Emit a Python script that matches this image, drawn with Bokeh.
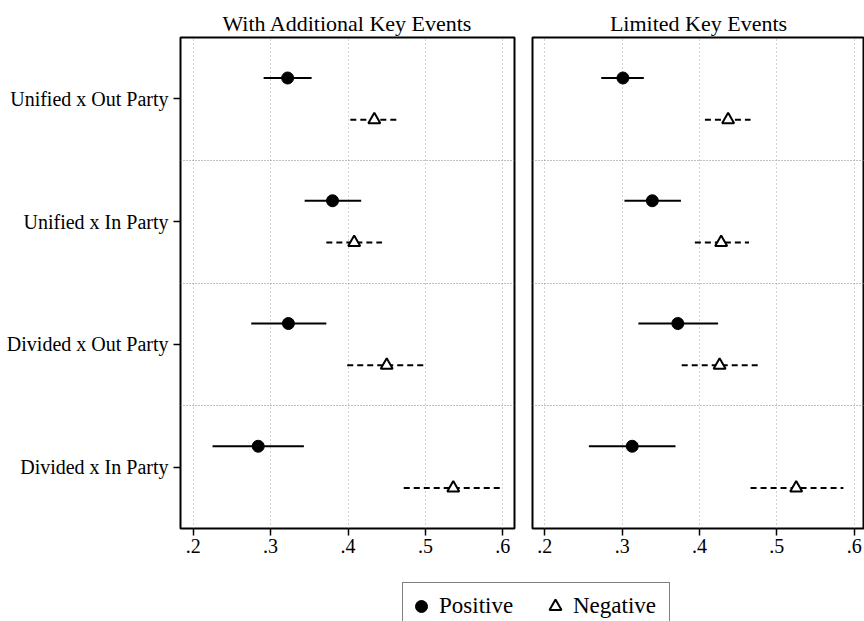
from bokeh.plotting import figure
from bokeh.models import (Range1d, FixedTicker, Legend, LegendItem, ColumnDataSource)
from bokeh.layouts import column, row
from bokeh.embed import file_html
from bokeh.resources import INLINE

# ---------------- data ----------------
categories = ["Unified x Out Party", "Unified x In Party",
              "Divided x Out Party", "Divided x In Party"]
panel_titles = ["With Additional Key Events", "Limited Key Events"]

# With Additional Key Events
add_pos_est = [0.322, 0.380, 0.323, 0.284]
add_pos_lo = [0.291, 0.344, 0.275, 0.225]
add_pos_hi = [0.353, 0.417, 0.372, 0.343]
add_neg_est = [0.434, 0.408, 0.450, 0.536]
add_neg_lo = [0.403, 0.372, 0.399, 0.472]
add_neg_hi = [0.463, 0.444, 0.500, 0.599]

# Limited Key Events
lim_pos_est = [0.301, 0.339, 0.372, 0.313]
lim_pos_lo = [0.273, 0.303, 0.321, 0.257]
lim_pos_hi = [0.328, 0.376, 0.424, 0.369]
lim_neg_est = [0.437, 0.428, 0.426, 0.525]
lim_neg_lo = [0.407, 0.394, 0.377, 0.466]
lim_neg_hi = [0.466, 0.464, 0.476, 0.586]

xtick_vals = [0.2, 0.3, 0.4, 0.5, 0.6]
xtick_labels = [".2", ".3", ".4", ".5", ".6"]
series_labels = ["Positive", "Negative"]

FONT = "Liberation Serif"
n = len(categories)
ypos = [n - i for i in range(n)]          # top row first
OFF = 0.17


def make_panel(title, pos_est, pos_lo, pos_hi, neg_est, neg_lo, neg_hi,
               x_start, x_end, width, left_border, right_border, show_y):
    p = figure(width=width, height=575,
               x_range=Range1d(x_start, x_end), y_range=Range1d(0.5, n + 0.5),
               min_border_left=left_border, min_border_right=right_border,
               min_border_top=37, min_border_bottom=47,
               toolbar_location=None, output_backend="svg",
               title=title)
    p.title.text_font = FONT
    p.title.text_font_size = "22px"
    p.title.text_font_style = "normal"
    p.title.align = "center"
    p.title.text_color = "black"
    p.title.standoff = 3

    p.outline_line_color = "black"
    p.outline_line_width = 2
    p.outline_line_alpha = 1.0

    # x axis
    p.xaxis.ticker = FixedTicker(ticks=xtick_vals)
    p.xaxis.major_label_overrides = dict(zip(xtick_vals, xtick_labels))
    p.xaxis.axis_line_color = None
    p.xaxis.major_tick_in = 0
    p.xaxis.major_tick_out = 7
    p.xaxis.major_tick_line_width = 1.5
    p.xaxis.minor_tick_line_color = None
    p.xaxis.major_label_text_font = FONT
    p.xaxis.major_label_text_font_size = "20px"
    p.xaxis.major_label_text_color = "black"
    p.xaxis.major_label_standoff = 3

    # y axis
    p.yaxis.ticker = FixedTicker(ticks=ypos)
    p.yaxis.major_label_overrides = dict(zip(ypos, categories))
    p.yaxis.axis_line_color = None
    p.yaxis.major_tick_in = 0
    p.yaxis.major_tick_out = 7
    p.yaxis.major_tick_line_width = 1.5
    p.yaxis.minor_tick_line_color = None
    p.yaxis.major_label_text_font = FONT
    p.yaxis.major_label_text_font_size = "20px"
    p.yaxis.major_label_text_color = "black"
    p.yaxis.major_label_standoff = 5
    if not show_y:
        p.yaxis.visible = False

    # grids
    p.xgrid.ticker = FixedTicker(ticks=xtick_vals)
    p.xgrid.grid_line_color = "#a8a8a8"
    p.xgrid.grid_line_dash = "1 3"
    p.xgrid.grid_line_width = 1
    p.ygrid.ticker = FixedTicker(ticks=[y + 0.5 for y in ypos[1:]])
    p.ygrid.grid_line_color = "#808080"
    p.ygrid.grid_line_dash = "1 2"
    p.ygrid.grid_line_width = 1.2

    src = ColumnDataSource(dict(
        ypos=[y + OFF for y in ypos], yneg=[y - OFF for y in ypos],
        pe=pos_est, pl=pos_lo, ph=pos_hi,
        ne=neg_est, nl=neg_lo, nh=neg_hi))

    p.segment(x0="pl", x1="ph", y0="ypos", y1="ypos", source=src,
              line_color="black", line_width=2)
    p.segment(x0="nl", x1="nh", y0="yneg", y1="yneg", source=src,
              line_color="black", line_width=2, line_dash="6 4")
    p.scatter(x="pe", y="ypos", source=src, marker="circle", size=12,
              fill_color="black", line_color="black")
    p.scatter(x="ne", y="yneg", source=src, marker="triangle", size=12,
              fill_color="white", line_color="black", line_width=2)
    return p


p1 = make_panel(panel_titles[0], add_pos_est, add_pos_lo, add_pos_hi,
                add_neg_est, add_neg_lo, add_neg_hi,
                0.1836, 0.6151, 523, 180, 9, True)
p2 = make_panel(panel_titles[1], lim_pos_est, lim_pos_lo, lim_pos_hi,
                lim_neg_est, lim_neg_lo, lim_neg_hi,
                0.1841, 0.6133, 341, 9, 0, False)

# legend strip (its sample glyphs sit outside the visible y range)
pl = figure(width=864, height=46, x_range=Range1d(0, 1), y_range=Range1d(-2, -1),
            min_border=0, toolbar_location=None, output_backend="svg",
            x_axis_location=None, y_axis_location=None)
pl.outline_line_color = None
pl.grid.visible = False
r_pos = pl.scatter(x=add_pos_est, y=ypos, marker="circle", size=12,
                   fill_color="black", line_color="black")
r_neg = pl.scatter(x=add_neg_est, y=ypos, marker="triangle", size=12,
                   fill_color="white", line_color="black", line_width=2)
legend = Legend(items=[LegendItem(label=series_labels[0], renderers=[r_pos]),
                       LegendItem(label=series_labels[1], renderers=[r_neg])],
                orientation="horizontal", location=(402, -9),
                border_line_color="black", border_line_width=1.5,
                padding=3, spacing=8, glyph_width=30, glyph_height=40,
                label_standoff=3, label_width=93, margin=0,
                label_text_font=FONT, label_text_font_size="23px",
                label_text_color="black", background_fill_color="white")
pl.add_layout(legend, "center")

layout = column(row(p1, p2), pl)
open("out.html", "w").write(file_html(layout, INLINE))
